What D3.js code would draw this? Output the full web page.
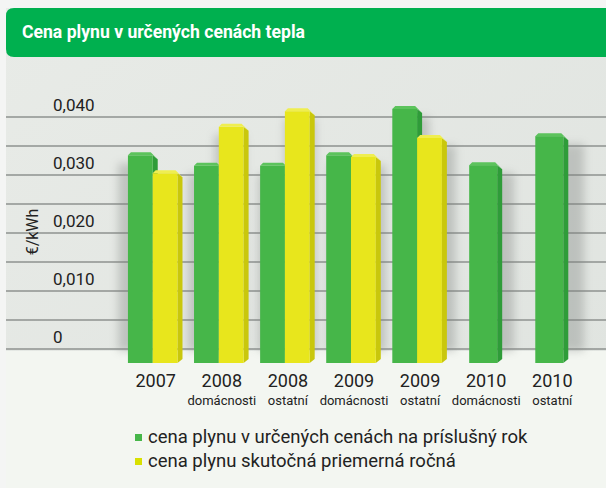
<!DOCTYPE html>
<html>
<head>
<meta charset="utf-8">
<script src="https://cdn.jsdelivr.net/npm/d3@7"></script>
<style>
  body { margin: 0; background: #fff; }
  svg { display: block; font-family: Roboto, "Open Sans", sans-serif; }
</style>
</head>
<body>
<svg width="606" height="488"></svg>
<script>
// data
const years = ["2007", "2008", "2008", "2009", "2009", "2010", "2010"];
const subLabels = ["", "domácnosti", "ostatní", "domácnosti", "ostatní", "domácnosti", "ostatní"];
const regulated = [0.0334, 0.0316, 0.0316, 0.0334, 0.0414, 0.0317, 0.0367];
const actual = [0.0303, 0.0383, 0.0410, 0.0331, 0.0364, null, null];
const yTicks = [0, 0.01, 0.02, 0.03, 0.04];
const tickLabels = ["0", "0,010", "0,020", "0,030", "0,040"];
const seriesNames = ["cena plynu v určených cenách na príslušný rok", "cena plynu skutočná priemerná ročná"];

const green = { front: "#46b649", side: "#2f9c39", top: "#5cc35c" };
const yellow = { front: "#e8e61c", side: "#c9c70c", top: "#efee50" };

const svg = d3.select("svg");
const W = 606, H = 488;
const floorY = 351, barBase = 363;

const defs = svg.append("defs");
const bg = defs.append("linearGradient").attr("id", "wall").attr("x1", 0).attr("y1", 0).attr("x2", 1).attr("y2", 1);
bg.append("stop").attr("offset", 0).attr("stop-color", "#e8ebe7");
bg.append("stop").attr("offset", 1).attr("stop-color", "#dfe3df");
defs.append("filter").attr("id", "blur").attr("x", -0.5).attr("y", -0.5).attr("width", 2).attr("height", 2)
  .append("feGaussianBlur").attr("stdDeviation", 4);

// panel
svg.append("rect").attr("x", 0).attr("y", 0).attr("width", W).attr("height", H).attr("fill", "#f4f5f4");
svg.append("rect").attr("x", 6).attr("y", 8).attr("width", W - 6).attr("height", H - 8).attr("fill", "url(#wall)");
svg.append("rect").attr("x", 6).attr("y", floorY).attr("width", W - 6).attr("height", H - floorY).attr("fill", "#f3f6f1");

// header
svg.append("path")
  .attr("d", `M14,8 H${W} V57 H14 Q6,57 6,49 V16 Q6,8 14,8 Z`)
  .attr("fill", "#00b04f");
svg.append("text").attr("x", 22).attr("y", 38)
  .attr("fill", "#fff").attr("font-size", 19).attr("font-weight", "bold")
  .attr("textLength", 283).attr("lengthAdjust", "spacingAndGlyphs")
  .text("Cena plynu v určených cenách tepla");

const y = d3.scaleLinear().domain([0, 0.04]).range([349, 117]);
const x = d3.scaleBand().domain(d3.range(years.length)).range([120, 582]).paddingInner(0.25).paddingOuter(0.12);

// grid every 0.005
const grid = svg.append("g");
grid.selectAll("line").data(d3.range(0, 0.0401, 0.005)).join("line")
  .attr("x1", 6).attr("x2", W)
  .attr("y1", d => y(d)).attr("y2", d => y(d))
  .attr("stroke", "#8e928f").attr("stroke-width", 1.6);

// y tick labels
svg.append("g").selectAll("text").data(yTicks).join("text")
  .attr("x", 53).attr("y", d => y(d) - 6)
  .attr("font-size", 17).attr("fill", "#222")
  .text((d, i) => tickLabels[i]);

svg.append("text")
  .attr("transform", `translate(38,232) rotate(-90)`)
  .attr("text-anchor", "middle").attr("font-size", 16).attr("fill", "#222")
  .text("€/kWh");

// bars
const bars = [];
regulated.forEach((v, i) => {
  const bw = x.bandwidth();
  if (actual[i] == null) {
    bars.push({ i, v, x0: x(i) + bw / 2 - 14, w: 28, c: green });
  } else {
    bars.push({ i, v, x0: x(i), w: bw / 2, c: green });
    bars.push({ i, v: actual[i], x0: x(i) + bw / 2, w: bw / 2, c: yellow });
  }
});

const cx = W / 2;
const dx = 5, dy = 4;

// shadows on the wall
svg.append("g").attr("opacity", 0.35).selectAll("rect").data(bars).join("rect")
  .attr("x", d => d.x0 + (d.x0 + d.w / 2 - cx) * 0.06)
  .attr("y", d => y(d.v) + 8)
  .attr("width", d => d.w + 6)
  .attr("height", d => floorY - y(d.v) - 8)
  .attr("fill", "#7a7f7b")
  .attr("filter", "url(#blur)");

const bg2 = svg.append("g").selectAll("g").data(bars).join("g");
bg2.append("path")
  .attr("d", d => {
    const r = d.x0 + d.w, t = y(d.v);
    return `M${r},${t} L${r + dx},${t + dy} L${r + dx},${barBase - dy} L${r},${barBase} Z`;
  })
  .attr("fill", d => d.c.side);
bg2.append("rect")
  .attr("x", d => d.x0).attr("y", d => y(d.v))
  .attr("width", d => d.w).attr("height", d => barBase - y(d.v))
  .attr("fill", d => d.c.front);
bg2.append("path")
  .attr("d", d => {
    const l = d.x0, r = d.x0 + d.w, t = y(d.v);
    return `M${l},${t} L${l + 3},${t - 3} L${r - 2},${t - 3} L${r + dx},${t + dy} L${r},${t} Z`;
  })
  .attr("fill", d => d.c.top);

// x labels
const xl = svg.append("g").selectAll("g").data(years).join("g")
  .attr("transform", (d, i) => `translate(${x(i) + x.bandwidth() / 2 + 3},0)`);
xl.append("text").attr("y", 387).attr("text-anchor", "middle")
  .attr("font-size", 18).attr("fill", "#222").text(d => d);
xl.append("text").attr("y", 405).attr("text-anchor", "middle")
  .attr("font-size", 13).attr("fill", "#222").text((d, i) => subLabels[i]);

// legend
const lg = svg.append("g").selectAll("g").data(seriesNames).join("g")
  .attr("transform", (d, i) => `translate(135,${443 + i * 24})`);
lg.append("rect").attr("x", 0).attr("y", -9).attr("width", 7).attr("height", 7)
  .attr("fill", (d, i) => i === 0 ? green.front : "#d8e000");
lg.append("text").attr("x", 13).attr("y", 0)
  .attr("font-size", 18.5).attr("fill", "#222").text(d => d);
</script>
</body>
</html>
